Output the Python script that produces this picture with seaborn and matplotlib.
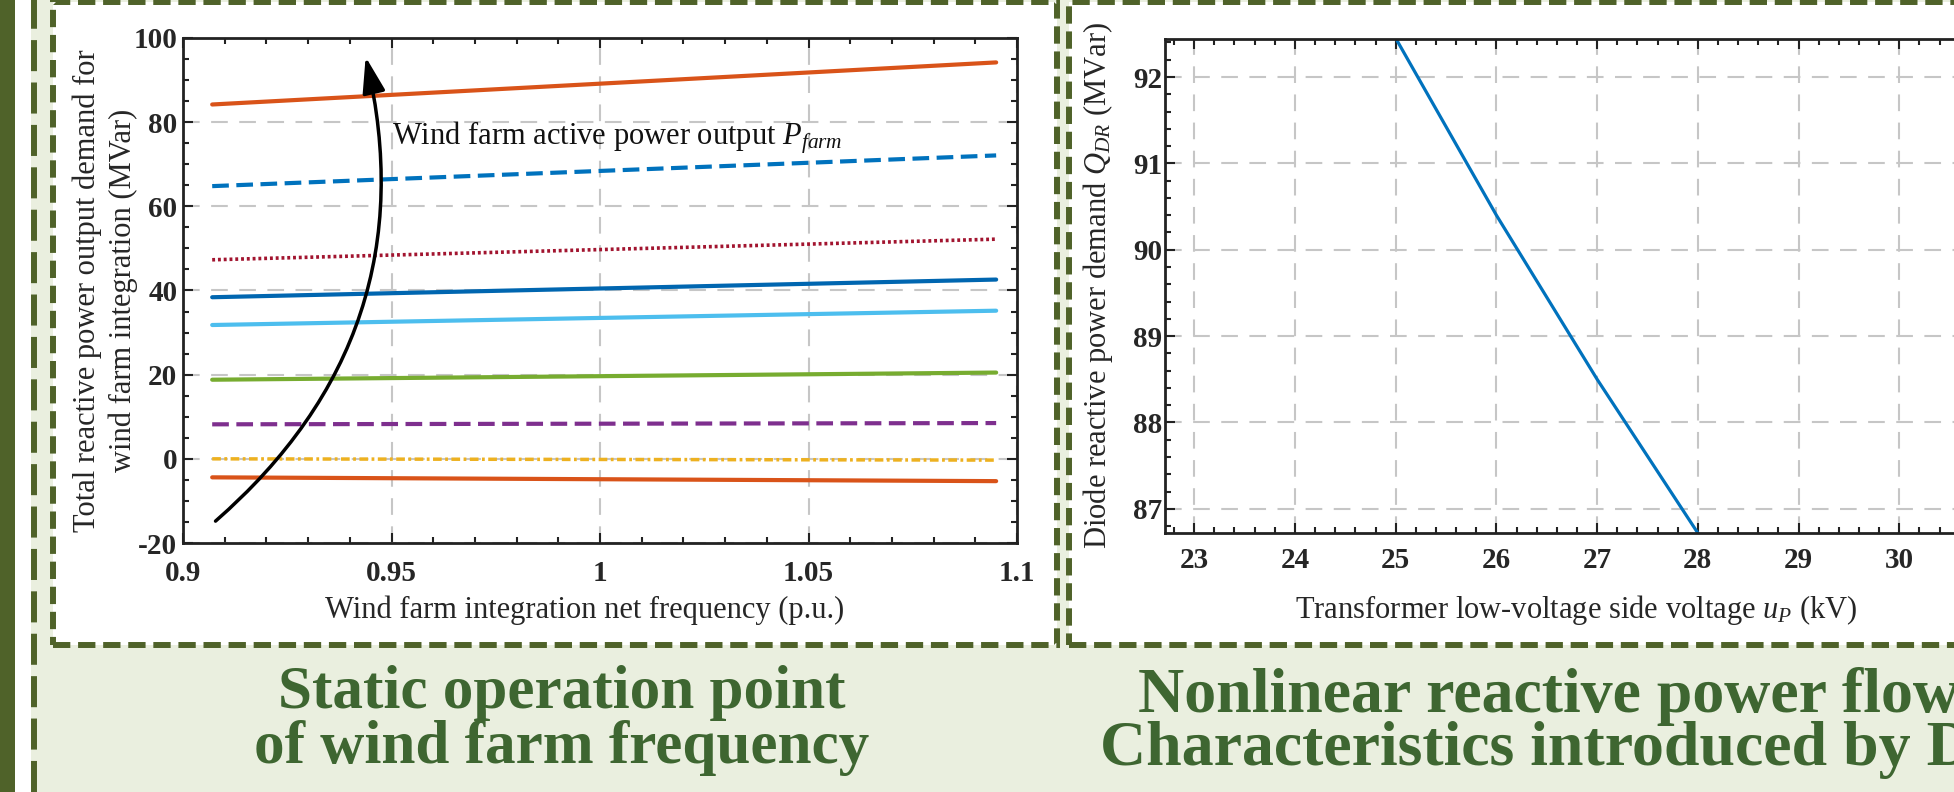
import matplotlib
matplotlib.use("Agg")
import matplotlib.pyplot as plt
import seaborn as sns
from matplotlib.patches import Rectangle
from matplotlib.lines import Line2D
from matplotlib.ticker import MultipleLocator

# ---------------- data: left chart ----------------
freq_pu = [0.907, 1.095]
q_orange_top = [84.2, 94.2]
q_blue_dash = [64.8, 72.1]
q_red_dot = [47.3, 52.2]
q_blue = [38.4, 42.6]
q_lightblue = [31.8, 35.2]
q_green = [18.8, 20.5]
q_purple_dash = [8.2, 8.5]
q_yellow = [0.0, -0.3]
q_orange_low = [-4.4, -5.3]

left_xticks = [0.9, 0.95, 1.0, 1.05, 1.1]
left_xticklabels = ["0.9", "0.95", "1", "1.05", "1.1"]
left_yticks = [-20, 0, 20, 40, 60, 80, 100]
left_yticklabels = ["-20", "0", "20", "40", "60", "80", "100"]

arrow_start = (0.9078, -14.8)
arrow_end = (0.9438, 95.5)
annot_pos = (0.9501, 76.2)

# ---------------- data: right chart ----------------
up_kv = [25.0, 26.0, 27.0, 28.0]
q_dr = [92.45, 90.40, 88.50, 86.72]
right_xticks = [23, 24, 25, 26, 27, 28, 29, 30, 31]
right_xticklabels = ["23", "24", "25", "26", "27", "28", "29", "30", "31"]
right_yticks = [87, 88, 89, 90, 91, 92]
right_yticklabels = ["87", "88", "89", "90", "91", "92"]

# ---------------- style ----------------
sns.set_theme(style="ticks")
plt.rcParams["font.family"] = ["Liberation Serif", "DejaVu Serif"]
plt.rcParams["mathtext.fontset"] = "custom"
plt.rcParams["mathtext.rm"] = "Liberation Serif"
plt.rcParams["mathtext.it"] = "Liberation Serif:italic"
plt.rcParams["mathtext.bf"] = "Liberation Serif:bold"

BG = "#EAEFDF"
OLIVE = "#4F6229"
TITLE = "#3E6631"
GRID = "#C6C6C6"

W, H = 1954, 792
fig = plt.figure(figsize=(W / 100, H / 100), dpi=100)
fig.patch.set_facecolor(BG)


def rect_px(x0, y0, x1, y1, **kw):
    r = Rectangle((x0 / W, 1 - y1 / H), (x1 - x0) / W, (y1 - y0) / H,
                  transform=fig.transFigure, **kw)
    fig.add_artist(r)
    return r


# decorations
rect_px(0, 0, 15, 792, facecolor=OLIVE, edgecolor="none", zorder=-5)
rect_px(15, 0, 31, 792, facecolor="white", edgecolor="none", zorder=-5)
fig.add_artist(Line2D([34 / W, 34 / W], [0, 1], transform=fig.transFigure,
                      color=OLIVE, lw=4.3, linestyle=(0, (5.2, 1.9)), zorder=-4))
border_ls = (0, (2.9, 1.3))
rect_px(52.5, 1.5, 1056.5, 645, facecolor="white", edgecolor=OLIVE, lw=4.3,
        linestyle=border_ls, zorder=-3)
rect_px(1069, 1.5, 2150, 645, facecolor="white", edgecolor=OLIVE, lw=4.3,
        linestyle=border_ls, zorder=-3)

# ---------------- axes ----------------
ax1 = fig.add_axes([183 / W, 1 - 543 / H, 834 / W, 505 / H])
ax2 = fig.add_axes([1165 / W, 1 - 533 / H, 835 / W, 494 / H])

for ax in (ax1, ax2):
    ax.set_facecolor("white")
    ax.set_axisbelow(True)
    ax.grid(True, which="major", color=GRID, linestyle=(0, (8, 5.5)), linewidth=1.5)
    ax.tick_params(which="both", direction="in", top=True, right=True,
                   width=1.5, color="#222222")
    ax.tick_params(which="major", length=7)
    ax.tick_params(which="minor", length=4.5)
    for s in ax.spines.values():
        s.set_linewidth(2.0)
        s.set_color("#222222")
        s.set_visible(True)

# left chart lines
series = [
    (q_orange_top, "#D95319", "-", 3.0),
    (q_blue_dash, "#0072BD", (0, (4, 1.8)), 3.0),
    (q_red_dot, "#A2142F", (0, (0.8, 0.8)), 2.6),
    (q_blue, "#0066B0", "-", 3.0),
    (q_lightblue, "#4DBEEE", "-", 3.0),
    (q_green, "#77AC30", "-", 3.0),
    (q_purple_dash, "#7E2F8E", (0, (4, 1.8)), 3.0),
    (q_yellow, "#EDB120", (0, (2.5, 1.0, 0.8, 1.0)), 2.5),
    (q_orange_low, "#D95319", "-", 3.0),
]
for vals, col, ls, lw in series:
    sns.lineplot(x=freq_pu, y=vals, ax=ax1, color=col, linestyle=ls,
                 linewidth=lw, legend=False)

ax1.annotate("", xy=arrow_end, xytext=arrow_start,
             arrowprops=dict(arrowstyle="-|>,head_length=1.1,head_width=0.35",
                             connectionstyle="arc3,rad=0.3", lw=2.5,
                             color="black", shrinkA=0, shrinkB=0,
                             mutation_scale=20))
ax1.text(annot_pos[0], annot_pos[1], "Wind farm active power output $P_{farm}$",
         fontsize=22, ha="left", va="center", color="#111111")

ax1.set_xlim(0.9, 1.1)
ax1.set_ylim(-20, 100)
ax1.set_xticks(left_xticks)
ax1.set_xticklabels(left_xticklabels, fontweight="bold", fontsize=21)
ax1.set_yticks(left_yticks)
ax1.set_yticklabels(left_yticklabels, fontweight="bold", fontsize=21)
ax1.xaxis.set_minor_locator(MultipleLocator(0.01))
ax1.yaxis.set_minor_locator(MultipleLocator(5))
ax1.tick_params(axis="x", which="major", pad=12)
ax1.tick_params(axis="y", which="major", pad=4)
ax1.set_xlabel("Wind farm integration net frequency (p.u.)", fontsize=22)
ax1.set_ylabel("Total reactive power output demand for\nwind farm integration (MVar)",
               fontsize=22, linespacing=1.3)
ax1.xaxis.label.set_va("center")
ax1.yaxis.label.set_va("center")
ax1.xaxis.set_label_coords(0.482, -0.133)
ax1.yaxis.set_label_coords(-0.0935, 0.5)

# right chart
sns.lineplot(x=up_kv, y=q_dr, ax=ax2, color="#0072BD", linewidth=2.3, legend=False)
ax2.set_xlim(22.71, 22.71 + 835 / 107.8)
ax2.set_ylim(86.72, 92.44)
ax2.set_xticks(right_xticks)
ax2.set_xticklabels(right_xticklabels, fontweight="bold", fontsize=21)
ax2.set_yticks(right_yticks)
ax2.set_yticklabels(right_yticklabels, fontweight="bold", fontsize=21)
ax2.xaxis.set_minor_locator(MultipleLocator(0.2))
ax2.yaxis.set_minor_locator(MultipleLocator(0.2))
ax2.tick_params(axis="x", which="major", pad=10)
ax2.tick_params(axis="y", which="major", pad=2)
ax2.set_xlabel("Transformer low-voltage side voltage $u_P$ (kV)", fontsize=22)
ax2.set_ylabel("Diode reactive power demand $Q_{DR}$ (MVar)", fontsize=22)
ax2.xaxis.label.set_va("center")
ax2.yaxis.label.set_va("center")
ax2.xaxis.set_label_coords(0.492, -0.156)
ax2.yaxis.set_label_coords(-0.0802, 0.5)

# panel titles
tkw = dict(fontweight="bold", color=TITLE, va="baseline")
fig.text(562 / W, 1 - 708 / H, "Static operation point", ha="center", fontsize=44, **tkw)
fig.text(562 / W, 1 - 763 / H, "of wind farm frequency", ha="center", fontsize=44, **tkw)
fig.text(1138 / W, 1 - 712 / H, "Nonlinear reactive power flow", ha="left", fontsize=46, **tkw)
fig.text(1100 / W, 1 - 765 / H, "Characteristics introduced by DR", ha="left", fontsize=46, **tkw)

fig.savefig("out.png", dpi=100, facecolor=BG)
